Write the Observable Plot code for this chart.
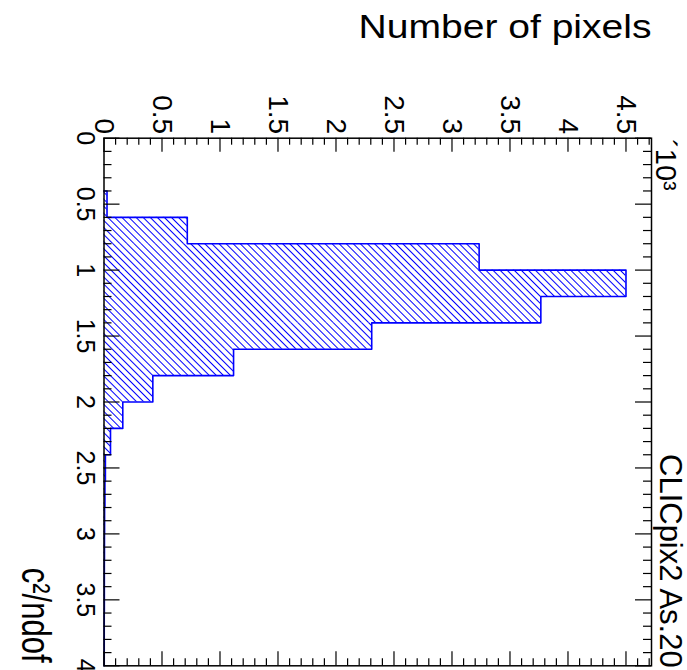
<!DOCTYPE html>
<html>
<head>
<meta charset="utf-8">
<script src="https://cdn.jsdelivr.net/npm/d3@7"></script>
<script src="https://cdn.jsdelivr.net/npm/@observablehq/plot@0.6"></script>
<style>
  body { margin: 0; background: #fff; }
  #chart svg { display: block; }
</style>
</head>
<body>
<div id="chart"></div>
<script>
// χ²/ndof histogram: lower bin edges (bin width 0.2) and number of pixels per bin
const binLow = [0.0, 0.2, 0.4, 0.6, 0.8, 1.0, 1.2, 1.4, 1.6, 1.8, 2.0, 2.2, 2.4, 2.6, 2.8, 3.0, 3.2, 3.4, 3.6, 3.8];
const binWidth = 0.2;
const pixelCounts = [0, 0, 26, 718, 3234, 4500, 3766, 2308, 1117, 421, 162, 56, 12, 8, 5, 4, 3, 3, 2, 2];

// axis ticks and labels (counts in units of 10^3)
const countTicks = [0, 0.5, 1, 1.5, 2, 2.5, 3, 3.5, 4, 4.5];
const countTickLabels = ["0", "0.5", "1", "1.5", "2", "2.5", "3", "3.5", "4", "4.5"];
const chiTicks = [0, 0.5, 1, 1.5, 2, 2.5, 3, 3.5, 4];
const chiTickLabels = ["0", "0.5", "1", "1.5", "2", "2.5", "3", "3.5", "4"];

const countTitle = "Number of pixels";
const chiTitle = "c²/ndof";
const histTitle = "CLICpix2 As.20";
const countExponent = "´10³";

const bins = binLow.map((lo, i) => ({lo, hi: lo + binWidth, k: pixelCounts[i] / 1000}));

// step outline of the histogram, starting at the first filled bin
const first = bins.findIndex(b => b.k > 0);
const outline = [{x: 0, y: bins[first].lo}];
for (const b of bins.slice(first)) outline.push({x: b.k, y: b.lo}, {x: b.k, y: b.hi});
outline.push({x: 0, y: bins[bins.length - 1].hi});

const minorCount = d3.range(0, 4.75, 0.1).filter(v => Math.abs(v * 2 - Math.round(v * 2)) > 1e-6);
const minorChi = d3.range(0, 4.0001, 0.1).filter(v => Math.abs(v * 2 - Math.round(v * 2)) > 1e-6);

const W = 687, H = 670;
const mL = 103.5, mR = 36, mT = 137.7, mB = 4.7;
const innerW = W - mL - mR, innerH = H - mT - mB;
const blue = "#0000ff";

// hatch fill for the histogram bars
const hatchDefs = () => {
  const defs = d3.create("svg:defs");
  const p = defs.append("pattern")
    .attr("id", "hatch")
    .attr("patternUnits", "userSpaceOnUse")
    .attr("width", 5).attr("height", 5)
    .attr("patternTransform", "rotate(-45)");
  p.append("line")
    .attr("x1", 2.5).attr("y1", -1).attr("x2", 2.5).attr("y2", 6)
    .attr("stroke", blue).attr("stroke-width", 1);
  return defs.node();
};

const tickStyle = {stroke: "#000", strokeWidth: 1.2};

const plot = Plot.plot({
  width: W,
  height: H,
  marginLeft: mL,
  marginRight: mR,
  marginTop: mT,
  marginBottom: mB,
  style: {background: "#fff", color: "#000", fontFamily: "'Liberation Sans', Arial, Helvetica, sans-serif"},
  x: {domain: [0, 4.72], axis: null},
  y: {domain: [0, 4], reverse: true, axis: null},
  marks: [
    hatchDefs,
    Plot.rect(bins, {x1: () => 0, x2: "k", y1: "lo", y2: "hi", fill: "url(#hatch)"}),
    Plot.line(outline, {x: "x", y: "y", stroke: blue, strokeWidth: 1.6}),

    // ticks on all four sides, pointing inward
    Plot.ruleX(minorCount, {x: d => d, insetBottom: innerH - 7, ...tickStyle}),
    Plot.ruleX(countTicks, {x: d => d, insetBottom: innerH - 14, ...tickStyle}),
    Plot.ruleX(minorCount, {x: d => d, insetTop: innerH - 7, ...tickStyle}),
    Plot.ruleX(countTicks, {x: d => d, insetTop: innerH - 14, ...tickStyle}),
    Plot.ruleY(minorChi, {y: d => d, insetRight: innerW - 8, ...tickStyle}),
    Plot.ruleY(chiTicks, {y: d => d, insetRight: innerW - 16, ...tickStyle}),
    Plot.ruleY(minorChi, {y: d => d, insetLeft: innerW - 8, ...tickStyle}),
    Plot.ruleY(chiTicks, {y: d => d, insetLeft: innerW - 16, ...tickStyle}),

    Plot.frame({stroke: "#000", strokeWidth: 1.5}),

    // tick labels, rotated
    Plot.text(countTicks, {
      x: d => d, text: (d, i) => countTickLabels[i], frameAnchor: "top",
      dy: -4, rotate: 90, textAnchor: "end", lineAnchor: "middle", fontSize: 28
    }),
    Plot.text(chiTicks, {
      y: d => d, text: (d, i) => chiTickLabels[i], frameAnchor: "left",
      dx: -19, rotate: 90, textAnchor: "middle", lineAnchor: "middle", fontSize: 25
    }),

    // titles
    Plot.text([countTitle], {
      text: d => d, frameAnchor: "top-right", dy: -100, textAnchor: "end", lineAnchor: "bottom", fontSize: 33
    }),
    Plot.text([countExponent], {
      text: d => d, frameAnchor: "top-right", dx: 4, dy: 1, rotate: 90, textAnchor: "start", lineAnchor: "bottom", fontSize: 29
    }),
    Plot.text([histTitle], {
      text: d => d, frameAnchor: "right", dx: 8, dy: 52, rotate: 90, textAnchor: "start", lineAnchor: "bottom", fontSize: 31
    }),
    Plot.text([chiTitle], {
      text: d => d, frameAnchor: "bottom-left", dx: -82, dy: -98, rotate: 90, textAnchor: "start", lineAnchor: "bottom", fontSize: 31
    })
  ]
});

const svg = d3.select(plot);
// the count-axis title is set wider than its natural width
svg.selectAll("text")
  .filter(function () { return this.textContent === countTitle; })
  .attr("textLength", 293)
  .attr("lengthAdjust", "spacingAndGlyphs");
// the χ²/ndof title has taller glyphs than its font size gives
svg.selectAll("text")
  .filter(function () { return this.textContent === chiTitle; })
  .attr("transform", function () { return `${this.getAttribute("transform")} scale(1,1.3)`; });

document.getElementById("chart").appendChild(plot);
</script>
</body>
</html>
